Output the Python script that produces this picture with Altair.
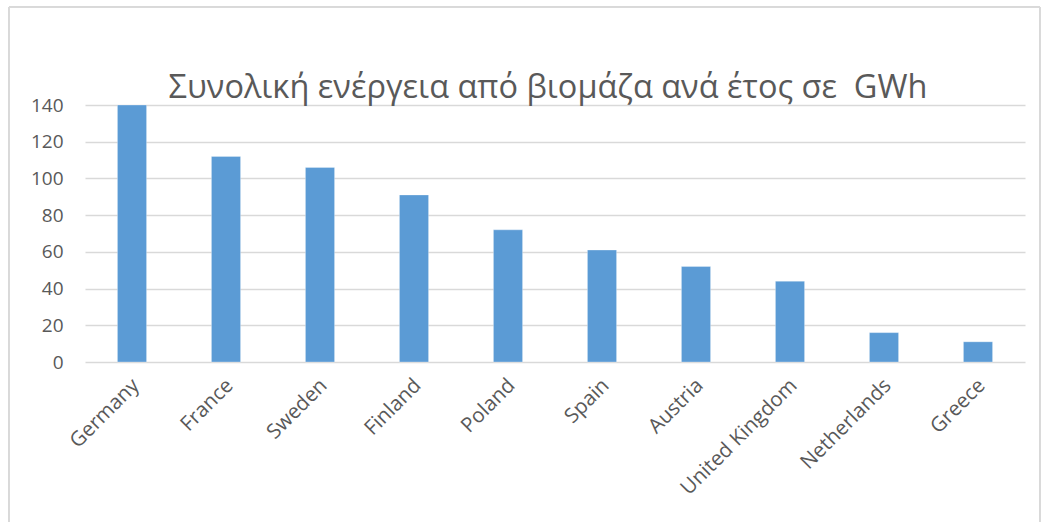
import altair as alt
import pandas as pd

countries = ["Germany", "France", "Sweden", "Finland", "Poland", "Spain",
             "Austria", "United Kingdom", "Netherlands", "Greece"]
values = [140, 112, 106, 91, 72, 61, 52, 44, 16, 11]
y_ticks = [0, 20, 40, 60, 80, 100, 120, 140]
title_text = "Συνολική ενέργεια από βιομάζα ανά έτος σε\u00a0 GWh"

df = pd.DataFrame({"country": countries, "value": values})
title_df = pd.DataFrame({"t": [title_text]})

FONT = "Open Sans"
GREY = "#595959"

bars = alt.Chart(df).mark_bar(color="#5B9BD5", stroke="#ffffff", strokeOpacity=0.5, strokeWidth=0.6).encode(
    x=alt.X("country:N", sort=countries, title=None,
            scale=alt.Scale(paddingInner=0.69, paddingOuter=0.345),
            axis=alt.Axis(labelAngle=-45, labelAlign="right", labelBaseline="middle",
                          labelFontSize=20.5, labelColor=GREY, labelFont=FONT,
                          labelPadding=20, labelOffset=4, ticks=False, domain=False, grid=False)),
    y=alt.Y("value:Q", title=None,
            scale=alt.Scale(domain=[0, 140], nice=False),
            axis=alt.Axis(values=y_ticks, labelFontSize=19, labelColor=GREY, labelFont=FONT,
                          labelPadding=22, ticks=False, domain=False,
                          grid=True, gridColor="#d9d9d9", gridWidth=1.5)),
)

border = alt.Chart(df).mark_rect(fill=None, stroke="#d9d9d9", strokeWidth=1, clip=False).encode(
    x=alt.value(-76), x2=alt.value(955), y=alt.value(-98), y2=alt.value(430)
)

title = alt.Chart(title_df).mark_text(font=FONT, fontSize=32.5, color=GREY, align="center",
                                      baseline="alphabetic").encode(
    text="t:N", x=alt.value(463), y=alt.value(-7)
)

chart = alt.layer(border, bars, title).properties(
    width=940, height=257,
    padding={"left": 85, "top": 105, "right": 22, "bottom": 160},
    autosize=alt.AutoSizeParams(type="none"),
).configure_view(stroke=None)

chart.save("out.html", embed_options={"renderer": "svg", "actions": False})
